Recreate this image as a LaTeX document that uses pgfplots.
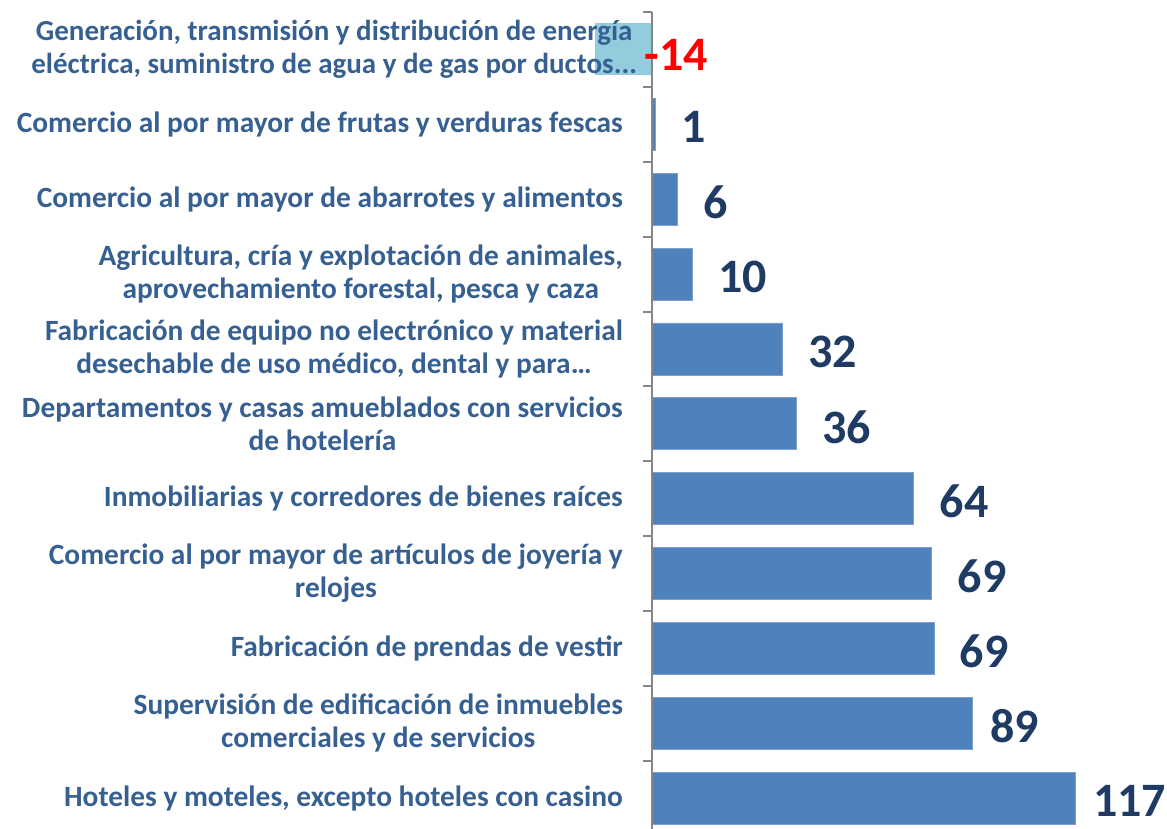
\documentclass[border=0pt]{standalone}
\usepackage{fontspec}
\setmainfont{Carlito}
\usepackage{pgfplots}
\usepackage{pgfplotstable}
\pgfplotsset{compat=1.18}
\definecolor{barblue}{HTML}{4F81BD}
\definecolor{negblue}{HTML}{93CDDD}
\definecolor{cattext}{HTML}{376092}
\definecolor{valtext}{HTML}{1F3B63}
\definecolor{axgray}{HTML}{868686}

\pgfplotstableread{
x y lab
-14.2 0 -14
}\negdata
\pgfplotstableread{
x y lab
0.85 1 1
6.2 2 6
9.9 3 10
32.2 4 32
35.6 5 36
64.7 6 64
69.2 7 69
69.7 8 69
}\maindata
\pgfplotstableread{
x y lab
79.3 9 89
104.8 10 117
}\topdata

\begin{document}
\begin{tikzpicture}
\begin{axis}[
  scale only axis, width=583.5pt, height=408.5pt,
  xmin=-161.46, xmax=127.4, ymin=-0.5, ymax=10.41,
  y dir=reverse,
  xbar, bar width=26pt, bar shift=0pt,
  axis x line=none, axis y line=middle,
  y axis line style={-, draw=axgray, line width=1pt},
  ytick={0,...,10},
  yticklabels={
    {\fontsize{14.5}{16.5}\selectfont Generación, transmisión y distribución de energía\hspace*{-7pt}\\\fontsize{14.5}{16.5}\selectfont eléctrica, suministro de agua y de gas por ductos.{}.{}.\hspace*{-7pt}},
    {Comercio al por mayor de frutas y verduras fescas},
    {Comercio al por mayor de abarrotes y alimentos},
    {Agricultura, cría y explotación de animales,\\aprovechamiento forestal, pesca y caza},
    {Fabricación de equipo no electrónico y material\\desechable de uso médico, dental y para…},
    {Departamentos y casas amueblados con servicios\\de hotelería},
    {Inmobiliarias y corredores de bienes raíces},
    {Comercio al por mayor de artículos de joyería y\\relojes},
    {Fabricación de prendas de vestir},
    {Supervisión de edificación de inmuebles\\comerciales y de servicios},
    {Hoteles y moteles, excepto hoteles con casino}},
  major tick length=0pt,
  minor ytick={-0.5,0.5,1.5,2.5,3.5,4.5,5.5,6.5,7.5,8.5,9.5},
  minor tick length=4.5pt,
  tick align=inside,
  minor y tick style={draw=axgray, line width=1pt, xshift=-4.5pt},
  yticklabel style={font=\fontsize{14.7}{16.5}\selectfont\bfseries, text=cattext, align=center, inner sep=0pt, xshift=-14.5pt},
  clip=false, axis on top,
  point meta=explicit symbolic,
  nodes near coords,
  every node near coord/.append style={anchor=west, inner sep=0pt, font=\fontsize{24}{24}\selectfont\bfseries, text=valtext, xshift=12.8pt, yshift=-1.5pt},
]
\addplot[fill=negblue, draw=none, nodes near coords style={text=red, xshift=11.7pt, yshift=-1pt}] table[x=x, y=y, meta=lab] {\negdata};
\addplot[fill=barblue, draw=barblue!75!white, line width=0.4pt] table[x=x, y=y, meta=lab] {\maindata};
\addplot[fill=barblue, draw=barblue!75!white, line width=0.4pt, nodes near coords style={xshift=-4.3pt}] table[x=x, y=y, meta=lab] {\topdata};
\end{axis}
\pgfresetboundingbox
\path[use as bounding box] (current axis.south west) rectangle ([yshift=6pt]current axis.north east);
\end{tikzpicture}
\end{document}
